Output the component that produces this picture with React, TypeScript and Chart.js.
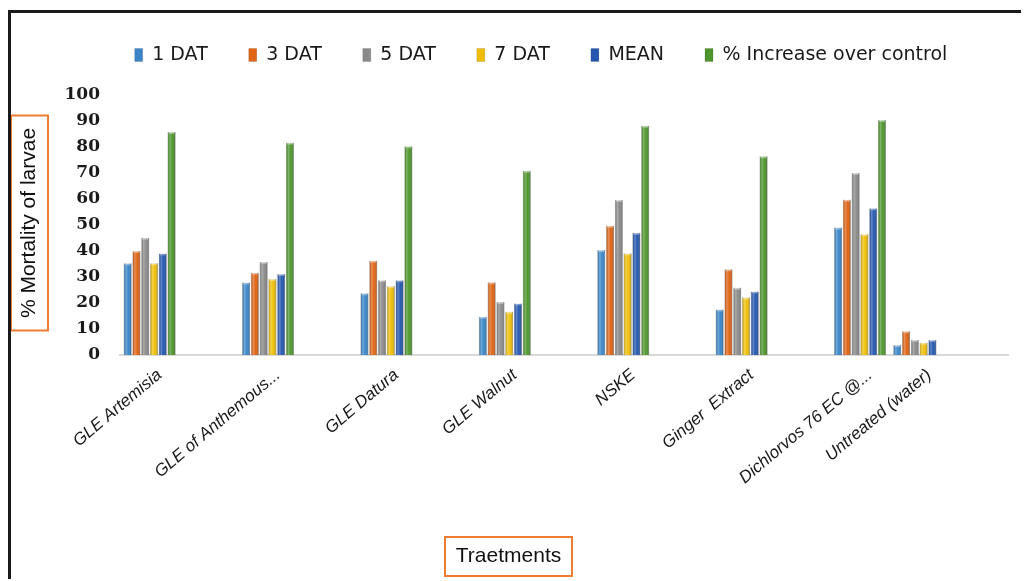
import React, { useEffect, useRef } from 'react';
import { Chart, registerables } from 'chart.js';

Chart.register(...registerables);

// Category slots (blank slots mirror the empty rows of the source sheet)
const categories: string[] = [
  'GLE Artemisia', '', 'GLE of Anthemous...', '', 'GLE Datura', '', 'GLE Walnut', '',
  'NSKE', '', 'Ginger  Extract', '', 'Dichlorvos 76 EC @...', 'Untreated (water)', '',
];

const dat1: (number | null)[] = [35.2, null, 27.8, null, 23.7, null, 14.7, null, 40.3, null, 17.5, null, 48.9, 3.8, null];
const dat3: (number | null)[] = [39.9, null, 31.6, null, 36.2, null, 27.9, null, 49.6, null, 32.9, null, 59.6, 9.1, null];
const dat5: (number | null)[] = [45.0, null, 35.7, null, 28.7, null, 20.3, null, 59.5, null, 25.8, null, 69.9, 5.8, null];
const dat7: (number | null)[] = [35.2, null, 29.2, null, 26.4, null, 16.6, null, 39.0, null, 22.1, null, 46.4, 4.7, null];
const meanVals: (number | null)[] = [39.0, null, 31.1, null, 28.7, null, 19.8, null, 46.9, null, 24.4, null, 56.3, 5.8, null];
const increaseVals: (number | null)[] = [85.6, null, 81.5, null, 80.1, null, 70.7, null, 88.0, null, 76.3, null, 90.2, null, null];

const seriesNames = ['1 DAT', '3 DAT', '5 DAT', '7 DAT', 'MEAN', '% Increase over control'];
const seriesColors = ['#3b86c8', '#df6414', '#8a8a8a', '#efbf08', '#2457b0', '#4d962c'];

const yTicks = { min: 0, max: 100, step: 10 };
const X_TITLE = 'Traetments';
const Y_TITLE = '% Mortality of larvae';

const legendFitPlugin = {
  id: 'legendFit',
  beforeUpdate(chart: any) {
    const lg = chart.legend;
    if (lg && !lg.__patched) {
      const orig = lg.fit;
      lg.fit = function () {
        orig.call(this);
        this.height = 90;
      };
      lg.__patched = true;
    }
  },
  afterLayout(chart: any) {
    const lg = chart.legend;
    if (lg) {
      lg.left = 42;
      lg.right = chart.width;
      lg.width = lg.right - lg.left;
    }
  },
};

const barShadePlugin = {
  id: 'barShade',
  afterDatasetsDraw(chart: any) {
    const ctx: CanvasRenderingContext2D = chart.ctx;
    ctx.save();
    chart.data.datasets.forEach((_ds: any, di: number) => {
      const meta = chart.getDatasetMeta(di);
      meta.data.forEach((el: any, i: number) => {
        const v = chart.data.datasets[di].data[i];
        if (v === null || v === undefined) return;
        const { x, y, base, width } = el.getProps(['x', 'y', 'base', 'width'], true);
        const left = x - width / 2;
        const g = ctx.createLinearGradient(left, 0, left + width, 0);
        g.addColorStop(0, 'rgba(0,0,0,0.18)');
        g.addColorStop(0.3, 'rgba(255,255,255,0.28)');
        g.addColorStop(0.6, 'rgba(255,255,255,0.02)');
        g.addColorStop(1, 'rgba(0,0,0,0.32)');
        ctx.fillStyle = g;
        ctx.fillRect(left, y, width, base - y);
        ctx.fillStyle = 'rgba(255,255,255,0.35)';
        ctx.fillRect(left + 1, y, width - 2, 2);
      });
    });
    ctx.restore();
  },
};

const titleBoxPlugin = {
  id: 'titleBoxes',
  afterDraw(chart: any) {
    const ctx: CanvasRenderingContext2D = chart.ctx;
    ctx.save();
    ctx.font = '21px "Liberation Sans", Arial, sans-serif';
    ctx.fillStyle = '#111';
    ctx.strokeStyle = '#ed7d31';
    ctx.lineWidth = 2;
    ctx.textAlign = 'center';
    ctx.textBaseline = 'middle';
    // x title
    const xcx = 497.5;
    const xcy = 543.5;
    ctx.fillText(X_TITLE, xcx, xcy);
    ctx.strokeRect(434, 524, 127, 39);
    // y title
    const ycx = 18.5;
    const ycy = 210;
    ctx.translate(ycx, ycy);
    ctx.rotate(-Math.PI / 2);
    ctx.fillText(Y_TITLE, 0, 0);
    ctx.strokeRect(-107.5, -18.5, 215, 37);
    ctx.restore();
  },
};

export default function App() {
  const ref = useRef<HTMLCanvasElement | null>(null);

  useEffect(() => {
    document.body.style.overflow = 'hidden';
    const canvas = ref.current;
    if (!canvas) return;
    const seriesData = [dat1, dat3, dat5, dat7, meanVals, increaseVals];
    const chart = new Chart(canvas, {
      type: 'bar',
      data: {
        labels: categories,
        datasets: seriesNames.map((name, i) => ({
          label: name,
          data: seriesData[i],
          backgroundColor: seriesColors[i],
          borderColor: 'rgba(0,0,0,0.25)',
          borderWidth: 0.5,
          categoryPercentage: 0.89,
          barPercentage: 0.9,
        })),
      },
      options: {
        animation: false,
        responsive: true,
        maintainAspectRatio: false,
        layout: { padding: { top: -8.5, left: 40, right: 21, bottom: 0 } },
        plugins: {
          legend: {
            position: 'top',
            labels: {
              boxWidth: 8,
              boxHeight: 13,
              padding: 41,
              color: '#1a1a1a',
              font: { family: '"DejaVu Sans", Verdana, sans-serif', size: 19 },
            },
          },
          tooltip: { enabled: false },
          title: { display: false },
        },
        scales: {
          x: {
            grid: { display: false, drawTicks: false },
            border: { display: true, color: '#d9d9d9', width: 2 },
            ticks: {
              autoSkip: false,
              minRotation: 40,
              maxRotation: 40,
              padding: 10,
              labelOffset: 10,
              color: '#1a1a1a',
              font: { family: '"Liberation Sans", Arial, sans-serif', size: 17, style: 'italic' },
            },
            afterFit: (scale: any) => {
              scale.height = 223;
            },
          },
          y: {
            min: yTicks.min,
            max: yTicks.max,
            grid: { display: false, drawTicks: false },
            border: { display: false },
            ticks: {
              stepSize: yTicks.step,
              padding: 20,
              color: '#1a1a1a',
              font: { family: '"DejaVu Serif", serif', size: 17, weight: 'bold' },
            },
            afterFit: (scale: any) => {
              scale.width = 69;
            },
          },
        },
      },
      plugins: [legendFitPlugin, barShadePlugin, titleBoxPlugin],
    });
    return () => chart.destroy();
  }, []);

  return (
    <div
      style={{
        marginTop: 2,
        borderLeft: '3px solid #1a1a1a',
        borderTop: '3px solid #1a1a1a',
        width: 1018,
        height: 566,
        background: '#fff',
      }}
    >
      <div style={{ position: 'relative', width: 1018, height: 565 }}>
        <canvas ref={ref} />
      </div>
    </div>
  );
}
